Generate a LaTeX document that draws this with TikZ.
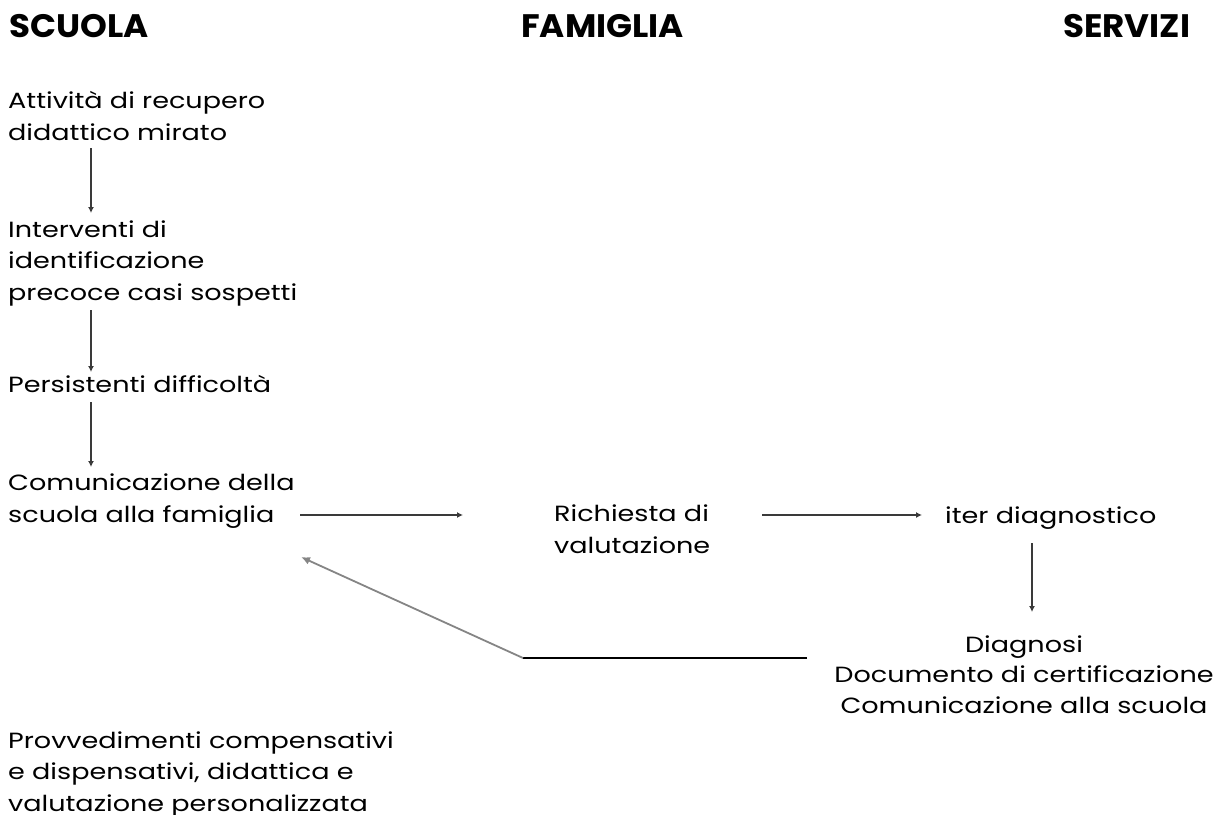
\documentclass[tikz,border=0pt]{standalone}
\usepackage{fontspec}
\newfontfamily\bodyfont[FakeStretch=1.23]{Poppins}
\newfontfamily\headfont[FakeStretch=1.05]{Poppins Bold}
\usetikzlibrary{arrows.meta,calc}
\definecolor{arrowcol}{HTML}{3A3A3A}
\definecolor{backcol}{HTML}{858585}
\tikzset{
  head/.style={font=\headfont\fontsize{32.5}{36}\selectfont, inner sep=0pt, anchor=base west},
  txt/.style={font=\bodyfont\fontsize{22}{31.5}\selectfont, inner sep=0pt, anchor=base west, align=left},
  txtc/.style={font=\bodyfont\fontsize{22}{30.5}\selectfont, inner sep=0pt, anchor=base, align=center},
  arr/.style={draw=arrowcol, line width=2.2pt, -{Latex[length=6pt,width=6pt]}},
  back/.style={draw=backcol, line width=1.8pt, -{Latex[length=9pt,width=8pt]}},
  backline/.style={draw=black, line width=1.4pt},
}
\begin{document}
\begin{tikzpicture}[x=1pt,y=-1pt]
\useasboundingbox (0,0) rectangle (1217,814);
\node[head] (scuola) at (9,37) {SCUOLA};
\node[head] (famiglia) at (521,37) {FAMIGLIA};
\node[head] (servizi) at (1063,37) {SERVIZI};

% base anchor = baseline of the last line
\node[txt] (att) at (8,140) {Attività di recupero\\didattico mirato};
\node[txt] (int) at (8,300) {Interventi di\\identificazione\\precoce casi sospetti};
\node[txt] (per) at (8,392) {Persistenti difficoltà};
\node[txt] (com) at (8,522) {Comunicazione della\\scuola alla famiglia};
\node[txt] (ric) at (554,553) {Richiesta di\\valutazione};
\node[txt] (iter) at (945,523) {iter diagnostico};
\node[txtc] (dia) at (1024,713) {Diagnosi\\Documento di certificazione\\Comunicazione alla scuola};
\node[txt] (prov) at (8,811) {Provvedimenti compensativi\\e dispensativi, didattica e\\valutazione personalizzata};

\coordinate (bend) at (523,658);

\draw[arr] ($(att.base west)+(83,8)$) -- ($(int.base west)+(83,-87)$);
\draw[arr] ($(int.base west)+(83,10)$) -- ($(per.base west)+(83,-20)$);
\draw[arr] ($(per.base west)+(83,10)$) -- ($(com.base west)+(83,-55)$);
\draw[arr] ($(com.base west)+(292,-7)$) -- ($(ric.base west)+(-91,-38)$);
\draw[arr] ($(ric.base west)+(208,-38)$) -- ($(iter.base west)+(-23,-8)$);
\draw[arr] ($(iter.base west)+(87,20)$) -- ($(dia.base)+(8,-101)$);
\draw[backline] ($(dia.base)+(-217,-55)$) -- (bend);
\draw[back] (bend) -- ($(com.base west)+(293,35)$);
\end{tikzpicture}
\end{document}
